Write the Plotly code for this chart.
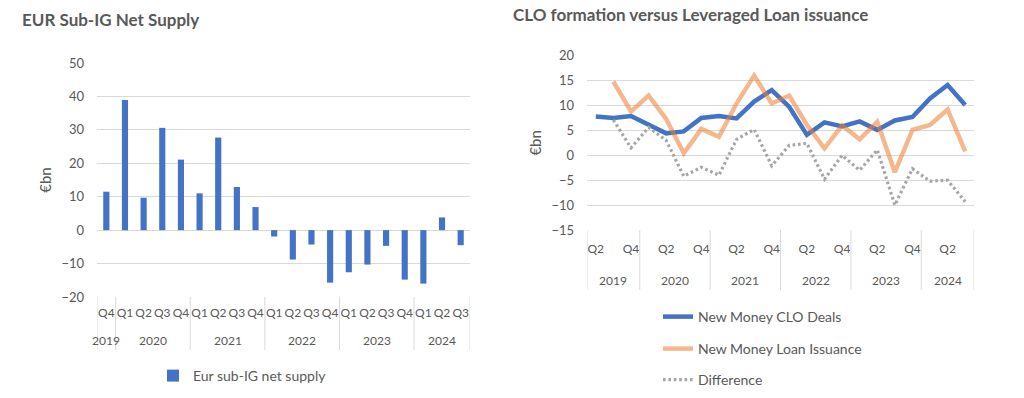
import plotly.graph_objects as go

# ---------------- Left chart data ----------------
left_years = ["2019"] + ["2020"] * 4 + ["2021"] * 4 + ["2022"] * 4 + ["2023"] * 4 + ["2024"] * 3
left_quarters = ["Q4"] + ["Q1", "Q2", "Q3", "Q4"] * 4 + ["Q1", "Q2", "Q3"]
net_supply = [11.5, 38.9, 9.7, 30.6, 21.1, 11.0, 27.7, 12.9, 6.9, -1.9, -8.8, -4.3, -15.7,
              -12.6, -10.3, -4.7, -14.8, -16.0, 3.8, -4.5]

# ---------------- Right chart data ----------------
right_years = ["2019"] * 3 + ["2020"] * 4 + ["2021"] * 4 + ["2022"] * 4 + ["2023"] * 4 + ["2024"] * 3
right_quarters = ["Q2", "Q3", "Q4"] + ["Q1", "Q2", "Q3", "Q4"] * 4 + ["Q1", "Q2", "Q3"]
clo_deals = [7.8, 7.5, 7.9, 6.2, 4.4, 4.8, 7.5, 7.9, 7.4, 10.8, 13.1, 9.7, 4.1, 6.6, 5.8, 6.8,
             5.1, 7.0, 7.7, 11.4, 14.1, 10.1]
loan_issuance = [None, 14.8, 8.8, 12.0, 7.3, 0.4, 5.3, 3.7, 10.4, 16.0, 10.4, 12.0, 6.1, 1.4,
                 6.0, 3.2, 6.7, -3.4, 5.1, 6.1, 9.2, 0.8]
difference = [None, 7.1, 1.5, 5.6, 3.0, -4.2, -2.4, -4.0, 3.2, 5.2, -2.1, 2.0, 2.4, -4.8, 0.0,
              -3.0, 1.1, -10.0, -2.7, -5.2, -5.0, -9.3]
right_shown_quarters = {"Q2", "Q4"}

GREY_TXT = "#595959"
GRID = "#d9d9d9"
FONT = "Lato"

W, H = 1024, 398


def px(x):
    return x / W


def py(y):
    return 1 - y / H


left_idx = list(range(len(left_quarters)))
right_idx = list(range(len(right_quarters)))

fig = go.Figure()

fig.add_trace(go.Bar(
    x=left_idx, y=net_supply, name="Eur sub-IG net supply",
    marker=dict(color="#4472c4", line=dict(width=0)),
    xaxis="x", yaxis="y", legend="legend", showlegend=True,
))
fig.add_trace(go.Scatter(
    x=right_idx, y=clo_deals, name="New Money CLO Deals",
    mode="lines", line=dict(color="#4472c4", width=4.5),
    xaxis="x2", yaxis="y2", legend="legend2", showlegend=True,
))
fig.add_trace(go.Scatter(
    x=right_idx, y=loan_issuance, name="New Money Loan Issuance",
    mode="lines", line=dict(color="#ed7d31", width=4.5), opacity=0.55,
    xaxis="x2", yaxis="y2", legend="legend3", showlegend=True,
))
fig.add_trace(go.Scatter(
    x=right_idx, y=difference, name="Difference",
    mode="lines", line=dict(color="#a5a5a5", width=3.2, dash="2.6px,2.8px"),
    xaxis="x2", yaxis="y2", legend="legend4", showlegend=True,
))


def groups(years):
    """Return (year, first index, last index) for consecutive year groups."""
    out = []
    start = 0
    for i in range(1, len(years) + 1):
        if i == len(years) or years[i] != years[start]:
            out.append((years[start], start, i - 1))
            start = i
    return out


# layout geometry (reference pixels -> paper fractions)
L_DOM = [px(97), px(470)]
L_Y = [py(297), py(63)]
R_DOM = [px(587), px(974)]
R_Y = [py(230), py(55.7)]

shapes = []
annotations = []


def add_year_row(years, xref, axis_bottom, div_bottom, label_y):
    g = groups(years)
    bounds = [g[0][1] - 0.5] + [last + 0.5 for (_, _, last) in g]
    for b in bounds:
        shapes.append(dict(type="line", xref=xref, yref="paper", x0=b, x1=b,
                           y0=axis_bottom, y1=div_bottom, line=dict(color=GRID, width=1)))
    for (yr, first, last) in g:
        annotations.append(dict(text=yr, x=(first + last) / 2, xref=xref, y=label_y,
                                yref="paper", showarrow=False, xanchor="center",
                                yanchor="middle",
                                font=dict(family=FONT, size=12, color=GREY_TXT)))


add_year_row(left_years, "x", L_Y[0], py(350), py(340))
add_year_row(right_years, "x2", R_Y[0], py(290), py(280))

annotations += [
    dict(text="<b>EUR Sub-IG Net Supply</b>", x=px(20), y=py(19), xref="paper",
         yref="paper", xanchor="left", yanchor="middle", showarrow=False,
         font=dict(family=FONT, size=17, color=GREY_TXT)),
    dict(text="<b>CLO formation versus Leveraged Loan issuance</b>", x=px(511),
         y=py(14), xref="paper", yref="paper", xanchor="left", yanchor="middle",
         showarrow=False, font=dict(family=FONT, size=17, color=GREY_TXT)),
]

xtickfont = dict(family=FONT, size=12, color=GREY_TXT)
ytickfont = dict(family=FONT, size=13, color=GREY_TXT)

xcommon = dict(tickfont=xtickfont, showgrid=False, zeroline=False, showline=False,
               ticks="", tickangle=0, automargin=False)
ycommon = dict(tickfont=ytickfont, gridcolor=GRID, gridwidth=1, zeroline=False,
               showline=False, ticks="", ticklabelstandoff=12, automargin=False,
               title=dict(text="€bn", font=dict(family=FONT, size=15, color=GREY_TXT),
                          standoff=6))

legend_font = dict(family=FONT, size=14, color=GREY_TXT)
leg_common = dict(xanchor="left", yanchor="middle", font=legend_font,
                  bgcolor="rgba(0,0,0,0)", visible=True)

fig.update_layout(
    width=W, height=H,
    margin=dict(l=0, r=0, t=0, b=0),
    paper_bgcolor="white", plot_bgcolor="white",
    font=dict(family=FONT, color=GREY_TXT),
    showlegend=True,
    hovermode=False,
    bargap=0.67,
    xaxis=dict(domain=L_DOM, anchor="y", range=[-0.5, len(left_idx) - 0.5],
               tickvals=left_idx, ticktext=left_quarters, ticklabelstandoff=7, **xcommon),
    yaxis=dict(domain=L_Y, anchor="x", range=[-20, 50], dtick=10, **ycommon),
    xaxis2=dict(domain=R_DOM, anchor="y2", range=[-0.5, len(right_idx) - 0.5],
                tickvals=[i for i in right_idx if right_quarters[i] in right_shown_quarters],
                ticktext=[q for q in right_quarters if q in right_shown_quarters],
                ticklabelstandoff=10, **xcommon),
    yaxis2=dict(domain=R_Y, anchor="x2", range=[-15, 20], dtick=5, **ycommon),
    legend=dict(x=px(153), y=py(376), **leg_common),
    legend2=dict(x=px(658), y=py(317), **leg_common),
    legend3=dict(x=px(658), y=py(349), **leg_common),
    legend4=dict(x=px(658), y=py(380), **leg_common),
    shapes=shapes,
    annotations=annotations,
)

# remove the browser's default 8px body margin so the figure fills the window exactly
fig.write_html("out.html",
               config={"displayModeBar": False, "staticPlot": True},
               post_script="document.body.style.margin='0px';document.body.style.overflow='hidden';")
